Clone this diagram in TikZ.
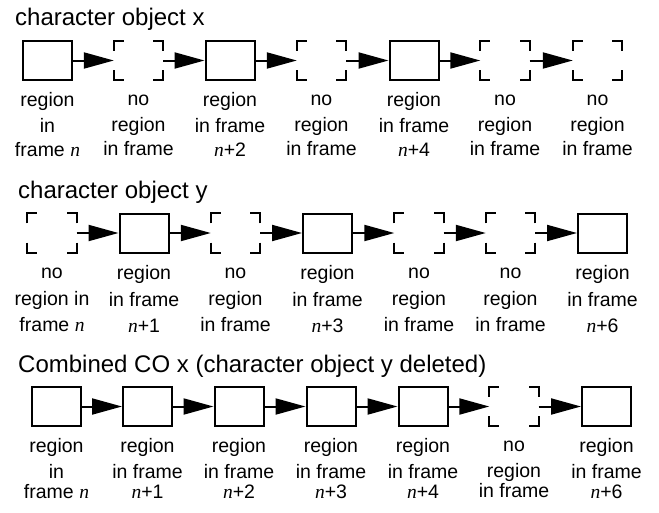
\documentclass[tikz,border=0pt]{standalone}
\usepackage{fontspec}
\setmainfont{Liberation Sans}
\newfontfamily\serifn{Liberation Serif}
\usetikzlibrary{arrows.meta}
\newcommand{\nn}{{\serifn\itshape n}}
\newcommand{\labs}[4]{\path (#1.south) +(0,\oa) node[lbl] (#1-l1) {#2} +(0,\ob) node[lbl] (#1-l2) {#3} +(0,\oc) node[lbl] (#1-l3) {#4};}
\newcommand{\corners}[1]{%
  \draw[corner] ([yshift=-10pt]#1.north west) |- ([xshift=10pt]#1.north west);
  \draw[corner] ([yshift=-10pt]#1.north east) |- ([xshift=-10pt]#1.north east);
  \draw[corner] ([yshift=10pt]#1.south west) |- ([xshift=10pt]#1.south west);
  \draw[corner] ([yshift=10pt]#1.south east) |- ([xshift=-10pt]#1.south east);}
\begin{document}
\begin{tikzpicture}[x=1pt,y=-1pt,
  box/.style={draw, line width=2pt, minimum width=49pt, minimum height=39pt, inner sep=0pt},
  nobox/.style={minimum width=49pt, minimum height=39pt, inner sep=0pt},
  link/.style={line width=2pt, -{Triangle[length=30pt,width=16pt]}},
  title/.style={anchor=base west, inner sep=0pt, font=\fontsize{24}{28}\selectfont},
  lbl/.style={anchor=base, inner sep=0pt, font=\fontsize{19.5}{24}\selectfont},
  corner/.style={line width=2pt}
]
\useasboundingbox (0,0) rectangle (659,512);

% ---------- row 1 ----------
\node[title] (t1) at (15,25) {character object x};
\node[box]   (a1) at (47.5,60.5) {};
\node[nobox] (a2) at (138.5,60.5) {};
\node[box]   (a3) at (230,60.5) {};
\node[nobox] (a4) at (321.5,60.5) {};
\node[box]   (a5) at (414,60.5) {};
\node[nobox] (a6) at (505,60.5) {};
\node[nobox] (a7) at (597.5,60.5) {};
\foreach \n in {a2,a4,a6,a7} {\corners{\n}}
\draw[link] (a1) -- (a2);
\draw[link] (a2) -- (a3);
\draw[link] (a3) -- (a4);
\draw[link] (a4) -- (a5);
\draw[link] (a5) -- (a6);
\draw[link] (a6) -- (a7);
\def\oa{25}\def\ob{51}\def\oc{75}
\labs{a1}{region}{in}{frame \nn}
\labs{a2}{no}{region}{in frame}
\labs{a3}{region}{in frame}{\nn+2}
\labs{a4}{no}{region}{in frame}
\labs{a5}{region}{in frame}{\nn+4}
\labs{a6}{no}{region}{in frame}
\labs{a7}{no}{region}{in frame}

% ---------- row 2 ----------
\node[title] (t2) at (18,198) {character object y};
\node[nobox] (b1) at (52,233) {};
\node[box]   (b2) at (144,233) {};
\node[nobox] (b3) at (235.5,233) {};
\node[box]   (b4) at (327.5,233) {};
\node[nobox] (b5) at (419,233) {};
\node[nobox] (b6) at (510.5,233) {};
\node[box]   (b7) at (602.5,233) {};
\foreach \n in {b1,b3,b5,b6} {\corners{\n}}
\draw[link] (b1) -- (b2);
\draw[link] (b2) -- (b3);
\draw[link] (b3) -- (b4);
\draw[link] (b4) -- (b5);
\draw[link] (b5) -- (b6);
\draw[link] (b6) -- (b7);
\def\oa{26}\def\ob{53}\def\oc{79}
\labs{b1}{no}{region in}{frame \nn}
\labs{b2}{region}{in frame}{\nn+1}
\labs{b3}{no}{region}{in frame}
\labs{b4}{region}{in frame}{\nn+3}
\labs{b5}{no}{region}{in frame}
\labs{b6}{no}{region}{in frame}
\labs{b7}{region}{in frame}{\nn+6}

% ---------- row 3 ----------
\node[title] (t3) at (18,372) {Combined CO x (character object y deleted)};
\node[box]   (c1) at (56.5,406.5) {};
\node[box]   (c2) at (147.5,406.5) {};
\node[box]   (c3) at (239,406.5) {};
\node[box]   (c4) at (331,406.5) {};
\node[box]   (c5) at (423,406.5) {};
\node[nobox] (c6) at (514,406.5) {};
\node[box]   (c7) at (606.5,406.5) {};
\corners{c6}
\draw[link] (c1) -- (c2);
\draw[link] (c2) -- (c3);
\draw[link] (c3) -- (c4);
\draw[link] (c4) -- (c5);
\draw[link] (c5) -- (c6);
\draw[link] (c6) -- (c7);
\def\oa{25}\def\ob{51}\def\oc{71}
\labs{c1}{region}{in}{frame \nn}
\labs{c2}{region}{in frame}{\nn+1}
\labs{c3}{region}{in frame}{\nn+2}
\labs{c4}{region}{in frame}{\nn+3}
\labs{c5}{region}{in frame}{\nn+4}
\labs{c6}{no}{region}{in frame}
\labs{c7}{region}{in frame}{\nn+6}
\end{tikzpicture}
\end{document}
